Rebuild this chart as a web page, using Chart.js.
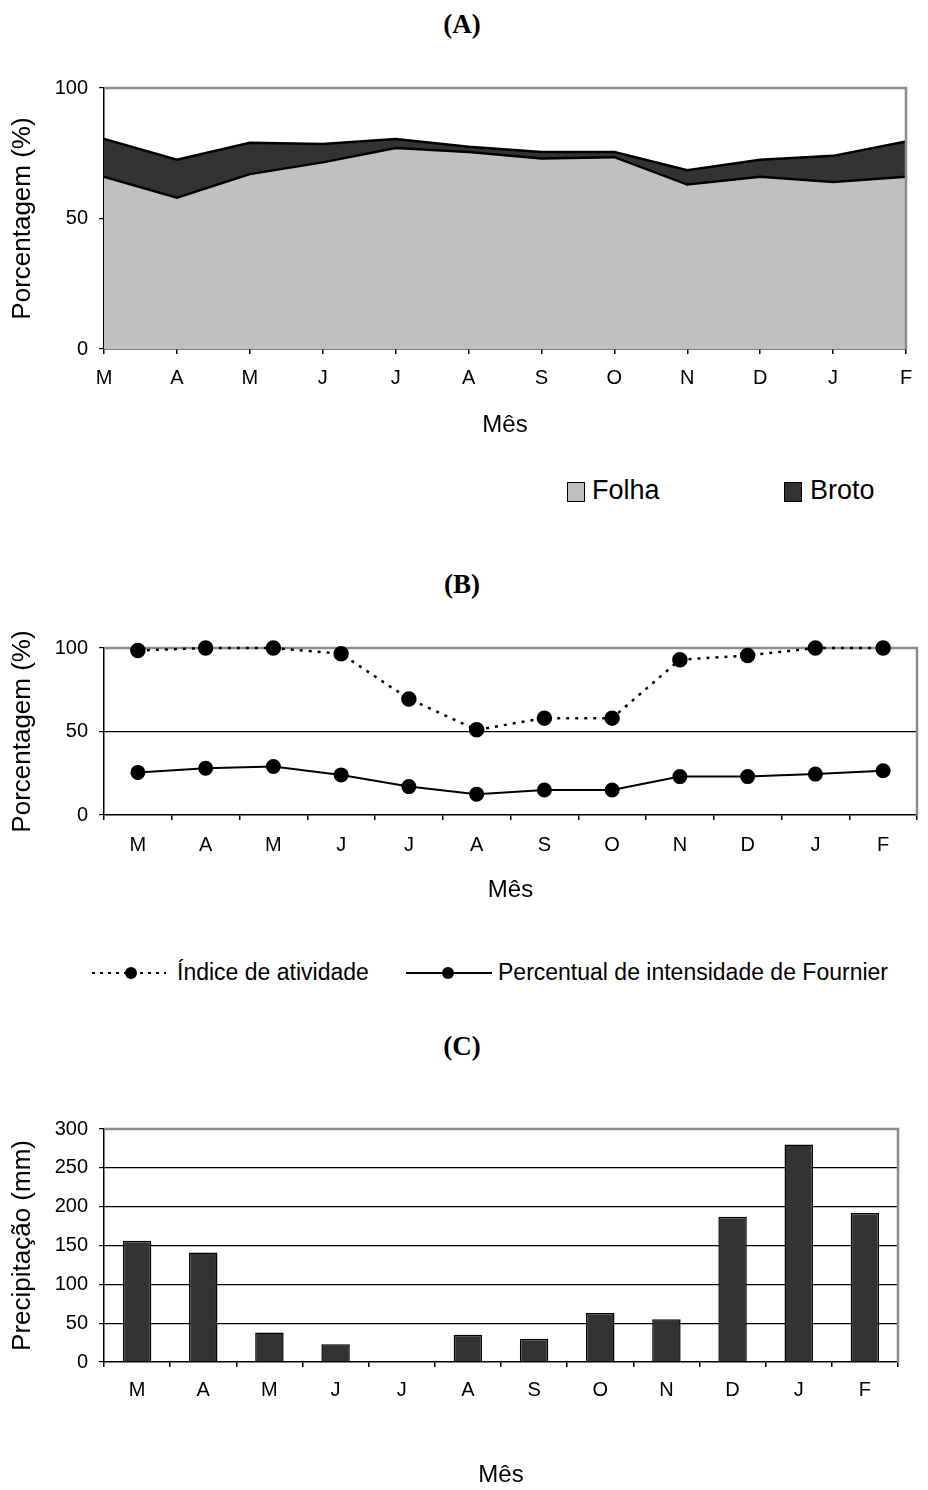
<!DOCTYPE html>
<html>
<head>
<meta charset="utf-8">
<script src="https://cdn.jsdelivr.net/npm/chart.js@4.4.0/dist/chart.umd.min.js"></script>
<style>
  body { margin: 0; width: 928px; height: 1490px; position: relative; overflow: hidden; background: #fff;
         font-family: "Liberation Sans", Arial, sans-serif; color: #000; }
  canvas { position: absolute; left: 0; }
  .titulo { position: absolute; left: 0; width: 924px; text-align: center;
            font: bold 27px "Liberation Serif", "Times New Roman", serif; line-height: 1; }
  .leg { position: absolute; white-space: nowrap; line-height: 1; }
  .caixa { position: absolute; border: 1.5px solid #000; box-sizing: border-box; }
</style>
</head>
<body>

<div class="titulo" style="top:11px">(A)</div>
<canvas id="graficoA" width="928" height="380" style="top:60px"></canvas>
<div class="caixa" style="left:567px;top:482px;width:18px;height:20px;background:#c0c0c0"></div>
<div class="leg" style="left:592px;top:477px;font-size:27px">Folha</div>
<div class="caixa" style="left:784px;top:482px;width:18px;height:20px;background:#333333"></div>
<div class="leg" style="left:810px;top:477px;font-size:27px">Broto</div>

<div class="titulo" style="top:571px">(B)</div>
<canvas id="graficoB" width="928" height="285" style="top:620px"></canvas>
<svg style="position:absolute;left:88px;top:961px" width="80" height="24">
  <line x1="4" y1="12" x2="78" y2="12" stroke="#000" stroke-width="2" stroke-dasharray="3,5"/>
  <circle cx="43" cy="12" r="6" fill="#000"/>
</svg>
<div class="leg" style="left:177px;top:961px;font-size:23px">Índice de atividade</div>
<svg style="position:absolute;left:404px;top:961px" width="90" height="24">
  <line x1="2" y1="12" x2="88" y2="12" stroke="#000" stroke-width="2"/>
  <circle cx="44" cy="12" r="6" fill="#000"/>
</svg>
<div class="leg" style="left:498px;top:961px;font-size:23px">Percentual de intensidade de Fournier</div>

<div class="titulo" style="top:1033px">(C)</div>
<canvas id="graficoC" width="928" height="410" style="top:1080px"></canvas>

<script>
// meses de março a fevereiro
const meses = ["M", "A", "M", "J", "J", "A", "S", "O", "N", "D", "J", "F"];

// (A) porcentagem de folha e broto (áreas empilhadas)
const folha = [66, 58, 67, 71.5, 77, 75.5, 73, 73.5, 63, 66, 64, 66];
const broto = [14.5, 14.5, 12, 7, 3.5, 2, 2.5, 2, 5.5, 6.5, 10, 13.5];

// (B) índices fenológicos
const indiceAtividade = [98.5, 100, 100, 96.5, 69.5, 51, 58, 58, 93, 95.5, 100, 100];
const fournier = [25.5, 28, 29, 24, 17, 12.5, 15, 15, 23, 23, 24.5, 26.5];

// (C) precipitação mensal
const precipitacao = [156, 141, 38, 23, 0, 35, 30, 63, 55, 187, 280, 192];

const ticksPct = [0, 50, 100];
const ticksChuva = [0, 50, 100, 150, 200, 250, 300];

Chart.defaults.font.family = '"Liberation Sans", Arial, sans-serif';
Chart.defaults.color = "#000";
Chart.defaults.animation = false;
Chart.defaults.plugins.legend.display = false;
Chart.defaults.plugins.tooltip.enabled = false;

// moldura cinza no topo e à direita da área de plotagem
const bordaCinza = {
  id: "bordaCinza",
  desenha(chart) {
    const { ctx, chartArea: a } = chart;
    ctx.save();
    ctx.strokeStyle = "#8c8c8c";
    ctx.lineWidth = 2.5;
    ctx.beginPath();
    ctx.moveTo(a.left, a.top);
    ctx.lineTo(a.right, a.top);
    ctx.lineTo(a.right, a.bottom);
    ctx.stroke();
    ctx.restore();
  },
  beforeDatasetsDraw(chart, args, opts) { if (!opts.depois) this.desenha(chart); },
  afterDatasetsDraw(chart, args, opts) { if (opts.depois) this.desenha(chart); }
};

function eixoX(altura, padTicks, offset, z) {
  return {
    offset: offset,
    z: z || 0,
    grid: { drawOnChartArea: false, offset: offset, tickLength: 5, tickColor: "#000", lineWidth: 1.5 },
    border: { color: "#000", width: 1.5 },
    ticks: { font: { size: 20 }, padding: padTicks, maxRotation: 0, autoSkip: false },
    title: { display: true, text: "Mês", font: { size: 24 }, padding: { top: 0, bottom: 0 } },
    afterFit(s) { s.height = altura; }
  };
}

function eixoY(titulo, max, valores, linhas, z) {
  return {
    min: 0,
    max: max,
    z: z || 0,
    afterBuildTicks(s) { s.ticks = valores.map(v => ({ value: v })); },
    ticks: { font: { size: 20 }, padding: 11 },
    grid: {
      tickLength: 5,
      tickColor: "#000",
      lineWidth: 1.2,
      color: c => (c.tick && linhas.includes(c.tick.value)) ? "#000" : "rgba(0,0,0,0)"
    },
    border: { color: "#000", width: 1.5 },
    title: { display: true, text: titulo, font: { size: 26 }, padding: { top: 7, bottom: 0 } },
    afterFit(s) { s.width = 104; }
  };
}

new Chart(document.getElementById("graficoA"), {
  type: "line",
  data: {
    labels: meses,
    datasets: [
      { label: "Folha", data: folha, fill: "origin", backgroundColor: "#c0c0c0",
        borderColor: "#000", borderWidth: 2.5, pointRadius: 0, tension: 0 },
      { label: "Broto", data: broto, fill: "-1", backgroundColor: "#333333",
        borderColor: "#000", borderWidth: 2.5, pointRadius: 0, tension: 0 }
    ]
  },
  options: {
    responsive: false,
    layout: { padding: { top: 28, right: 22, bottom: 0, left: 0 } },
    scales: {
      x: Object.assign(eixoX(91, 12, false, 1), { stacked: true }),
      y: Object.assign(eixoY("Porcentagem (%)", 100, ticksPct, [], 1), { stacked: true })
    },
    plugins: { bordaCinza: { depois: true } }
  },
  plugins: [bordaCinza]
});

new Chart(document.getElementById("graficoB"), {
  type: "line",
  data: {
    labels: meses,
    datasets: [
      { label: "Índice de atividade", data: indiceAtividade, borderColor: "#000", borderWidth: 2.5,
        borderDash: [3, 6], pointRadius: 6.5, pointBackgroundColor: "#000", pointBorderColor: "#000",
        tension: 0, fill: false, clip: false },
      { label: "Percentual de intensidade de Fournier", data: fournier, borderColor: "#000", borderWidth: 2,
        pointRadius: 6.5, pointBackgroundColor: "#000", pointBorderColor: "#000", tension: 0, fill: false, clip: false }
    ]
  },
  options: {
    responsive: false,
    layout: { padding: { top: 28, right: 11, bottom: 0, left: 0 } },
    scales: {
      x: eixoX(90, 13, true),
      y: eixoY("Porcentagem (%)", 100, ticksPct, [50])
    },
    plugins: { bordaCinza: { depois: false } }
  },
  plugins: [bordaCinza]
});

new Chart(document.getElementById("graficoC"), {
  type: "bar",
  data: {
    labels: meses,
    datasets: [
      { label: "Precipitação", data: precipitacao, backgroundColor: "#333333", borderColor: "#000",
        borderWidth: 1.5, borderSkipped: "bottom", categoryPercentage: 1, barPercentage: 0.43 }
    ]
  },
  options: {
    responsive: false,
    layout: { padding: { top: 49, right: 30, bottom: 0, left: 0 } },
    scales: {
      x: eixoX(128, 11, true),
      y: eixoY("Precipitação (mm)", 300, ticksChuva, [50, 100, 150, 200, 250])
    },
    plugins: { bordaCinza: { depois: false } }
  },
  plugins: [bordaCinza]
});
</script>
</body>
</html>
